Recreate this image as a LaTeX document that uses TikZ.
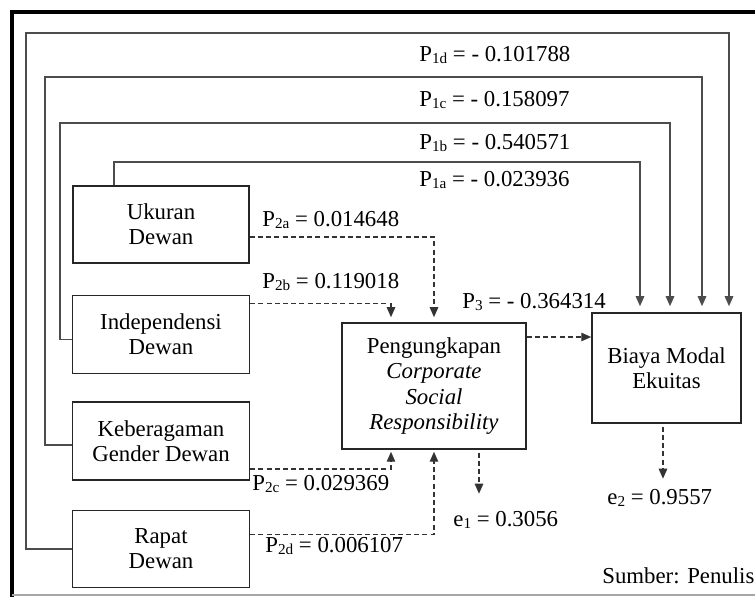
\documentclass[tikz,border=0pt]{standalone}
\usepackage{fontspec}
\setmainfont{Liberation Serif}
\usetikzlibrary{positioning,arrows.meta}

\newcommand{\pcoef}[2]{P\raisebox{-0.2ex}{\fontsize{7.6}{8}\selectfont #1} = #2}
\newcommand{\ecoef}[2]{e\raisebox{-0.2ex}{\fontsize{7.6}{8}\selectfont #1} = #2}

\begin{document}
\begin{tikzpicture}[x=0.5pt,y=-0.5pt,
		font=\fontsize{11.4}{12.6}\selectfont,
		varbox/.style={draw=black!85, line width=0.75pt, align=center, inner sep=0pt},
		pathlabel/.style={anchor=west, inner sep=0pt},
		direct/.style={draw=black!70, line width=0.8pt, -{Triangle[length=5pt,width=4.2pt]}, shorten >=3pt},
		indirect/.style={draw=black!80, line width=0.7pt, dash pattern=on 2.5pt off 1.6pt, -{Triangle[length=5pt,width=4.2pt]}},
		]
		\useasboundingbox (0,0) rectangle (755,597);
		
		%Frame
		\draw[line width=2.3pt] (12,597) -- (12,12) -- (755,12);
		\draw[black!35, line width=0.6pt] (12,595) -- (755,595);
		
		%Nodes
		\node[varbox, minimum width=88pt, minimum height=38.5pt]   (ukuran) at (161,224.5)            {Ukuran\\Dewan};
		\node[varbox, minimum width=88.5pt, minimum height=39pt]   (indep)  [below=15.5pt of ukuran] {Independensi\\Dewan};
		\node[varbox, minimum width=88.5pt, minimum height=39pt]   (gender) [below=13.5pt of indep]  {Keberagaman\\Gender Dewan};
		\node[varbox, minimum width=88.5pt, minimum height=38.5pt] (rapat)  [below=14.5pt of gender] {Rapat\\Dewan};
		\node[varbox, minimum width=92pt, minimum height=63pt]     (csr)    at (434,386)              {Pengungkapan\\\textit{Corporate}\\\textit{Social}\\\textit{Responsibility}};
		\node[varbox, minimum width=74.5pt, minimum height=55pt]   (biaya)  at (666.5,368)            {Biaya Modal\\Ekuitas};
		
		%Corners
		\coordinate (a1) at (114,162);
		\coordinate (b1) at (60,123);
		\coordinate (c1) at (45,77);
		\coordinate (d1) at (26,33);
		\coordinate (p3start) at ([yshift=24.5pt]csr.east);
		\coordinate (e1tip) at ([xshift=22.5pt,yshift=-22pt]csr.south);
		\coordinate (e2tip) at ([xshift=-1.75pt,yshift=-27.5pt]biaya.south);
		
		%Labels
		\node[pathlabel] (l1d) at (419,55)  {\pcoef{1d}{- 0.101788}};
		\node[pathlabel] (l1c) at (419,100) {\pcoef{1c}{- 0.158097}};
		\node[pathlabel] (l1b) at (419,143) {\pcoef{1b}{- 0.540571}};
		\node[pathlabel] (l1a) at (419,180) {\pcoef{1a}{- 0.023936}};
		\node[pathlabel] (l2a) at (262,220) {\pcoef{2a}{0.014648}};
		\node[pathlabel] (l2b) at (262,282) {\pcoef{2b}{0.119018}};
		\node[pathlabel] (l2c) at (252,484) {\pcoef{2c}{0.029369}};
		\node[pathlabel] (l2d) at (265,546) {\pcoef{2d}{0.006107}};
		\node[pathlabel] (l3)  at (462,302) {\pcoef{3}{- 0.364314}};
		\node[pathlabel] (le1) at (453,520) {\ecoef{1}{0.3056}};
		\node[pathlabel] (le2) at (607,498) {\ecoef{2}{0.9557}};
		\node[pathlabel] (src) at (602,576) {Sumber: Penulis};
		
		%Lines
		\draw[direct] (ukuran.north -| a1) -- (a1) -| ([xshift=-13.25pt]biaya.north);
		\draw[direct] ([yshift=-2.5pt]indep.west) -| (b1) -| ([xshift=1.75pt]biaya.north);
		\draw[direct] ([yshift=-2pt]gender.west) -| (c1) -| ([xshift=17.75pt]biaya.north);
		\draw[direct] (rapat.west) -| (d1) -| ([xshift=31.25pt]biaya.north);
		
		\draw[indirect, shorten >=2.5pt] ([yshift=-6.25pt]ukuran.east) -| (csr.north);
		\draw[indirect, shorten >=2.5pt] ([yshift=15.5pt]indep.east) -| ([xshift=-21.5pt]csr.north);
		\draw[indirect, shorten >=1pt] ([yshift=-14pt]gender.east) -| ([xshift=-21.5pt]csr.south);
		\draw[indirect, shorten >=1pt] ([yshift=7.25pt]rapat.east) -| (csr.south);
		\draw[indirect] (p3start) -- (p3start -| biaya.west);
		\draw[indirect, shorten <=1.5pt] ([xshift=22.5pt]csr.south) -- (e1tip);
		\draw[indirect, shorten <=1.5pt] ([xshift=-1.75pt]biaya.south) -- (e2tip);
		\end{tikzpicture}
\end{document}
